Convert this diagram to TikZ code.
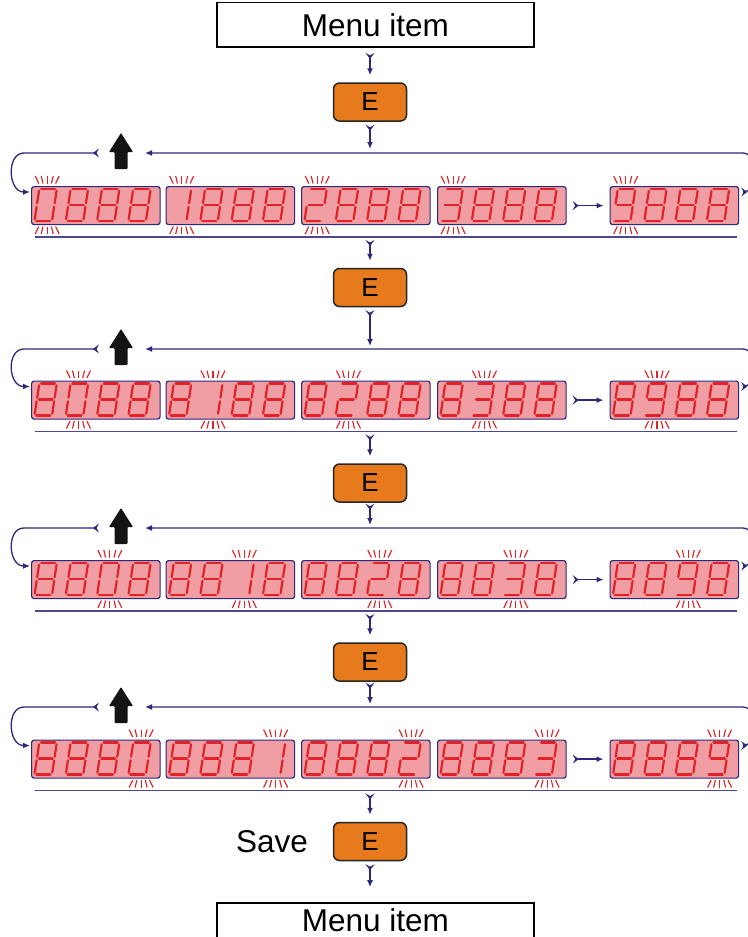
\documentclass[tikz,border=0pt]{standalone}
\usepackage{fontspec}
\setmainfont{Liberation Sans}
\usetikzlibrary{arrows.meta,calc}
\definecolor{navy}{RGB}{44,40,126}
\definecolor{dpink}{RGB}{240,158,163}
\definecolor{segred}{RGB}{225,35,40}
\definecolor{btnorange}{RGB}{231,122,29}
\tikzset{
  conn/.style={draw=navy, line width=1.3pt, {Stealth[reversed,length=6pt,width=9pt,inset=2.5pt]}-{Latex[length=7pt,width=6pt]}},
  rowline/.style={draw=navy!85, line width=1.8pt},
  dispbox/.style={draw=navy, line width=1.2pt, fill=dpink, rounded corners=2.5pt, minimum width=128.5pt, minimum height=38pt, inner sep=0pt, anchor=north west},
  segline/.style={draw=segred, line width=2.2pt, line cap=round},
  flashline/.style={draw=segred, line width=1.15pt},
  ebtn/.style={draw=black!85, line width=1.5pt, fill=btnorange, rounded corners=6pt, minimum width=73pt, minimum height=38pt, inner sep=0pt, font=\fontsize{26}{26}\selectfont},
  menubox/.style={draw=black, line width=1.8pt, fill=white, minimum width=317pt, minimum height=44.5pt, inner sep=0pt, font=\fontsize{31.5}{36}\selectfont},
  lbl/.style={inner sep=0pt, font=\fontsize{31.5}{36}\selectfont},
  bigarrow/.style={fill=black!92, rounded corners=0.8pt},
}
% seven segments, local coordinates (v upwards)
\newcommand\segA{\draw[segline] (1.8,32) -- (15.7,32);}
\newcommand\segB{\draw[segline] (17.5,30.2) -- (17.5,17.8);}
\newcommand\segC{\draw[segline] (17.5,14.2) -- (17.5,1.8);}
\newcommand\segD{\draw[segline] (1.8,0) -- (15.7,0);}
\newcommand\segE{\draw[segline] (0,1.8) -- (0,14.2);}
\newcommand\segF{\draw[segline] (0,17.8) -- (0,30.2);}
\newcommand\segG{\draw[segline] (1.8,16) -- (15.7,16);}
\newcommand\segset[1]{\foreach \sgname in {#1}{\csname seg\sgname\endcsname}}
\newcommand\digat[3]{\begin{scope}[shift={(#1,#2)},x=1pt,y=1pt,xslant=0.15]%
  \ifcase#3\relax \segset{A,B,C,D,E,F}\or \segset{B,C}\or \segset{A,B,G,E,D}\or
  \segset{A,B,G,C,D}\or \segset{F,G,B,C}\or \segset{A,F,G,C,D}\or \segset{A,F,G,E,C,D}\or
  \segset{A,B,C}\or \segset{A,B,C,D,E,F,G}\or \segset{A,B,C,D,F,G}\fi
  \end{scope}}
\newcommand\flashat[3]{\begin{scope}[shift={({#1},{#2})}]%
  \foreach \k in {-2,...,2}{%
    \draw[flashline] ({\k*4.2},-2.5) -- ({\k*6},-10);
    \draw[flashline] ({\k*4.2},#3+2.5) -- ({\k*6},#3+10);}
  \end{scope}}
\newcommand\disp[8]{%
  \node[dispbox] (#1) at (#2,#3) {};
  \digat{#2+3.5}{#3+35}{#4}
  \digat{#2+34.8}{#3+35}{#5}
  \digat{#2+66.1}{#3+35}{#6}
  \digat{#2+97.4}{#3+35}{#7}
  \flashat{#2+16.2+31.3*(#8-1)}{#3}{38}}
\newcommand\bigup[1]{\fill[bigarrow] (121,#1) -- (133,#1+19) -- (127.5,#1+19) -- (127.5,#1+36) -- (114.5,#1+36) -- (114.5,#1+19) -- (109,#1+19) -- cycle;}
% #1 row, #2 top line y, #3 display top y
\newcommand\rowloops[3]{%
  \coordinate (t#1) at (370,#2);
  \coordinate (b#1) at (370,#3+51);
  \coordinate (tip#1) at (145,#2);
  \coordinate (tail#1) at (99,#2);
  \coordinate (lc#1) at (24,#2);
  \coordinate (rc#1) at (752,#3+6);
  \draw[rowline] (35,#3+51) -- (737,#3+51);
  \draw[conn, rounded corners=9pt] ($(D#15.north east)+(2,6)$) -- (rc#1) |- (tip#1);
  \draw[conn] (tail#1) -- (lc#1) .. controls +(-18,0) and +(-22,0) .. ($(D#11.north west)+(-1,6)$);
  \draw[conn] ($(D#14.east)+(6,0)$) -- ($(D#15.west)+(-6,0)$);
  \bigup{#2-20}}
\begin{document}
\begin{tikzpicture}[x=1pt,y=-1pt]
\useasboundingbox (0,0) rectangle (747,937);
\fill[white] (0,0) rectangle (747,937);
% menu boxes and buttons
\node[menubox] (menu1) at (375.5,24.75) {Menu item};
\node[ebtn] (E1) at (370,102) {E};
\node[ebtn] (E2) at (370,287.5) {E};
\node[ebtn] (E3) at (370,483) {E};
\node[ebtn] (E4) at (370,662) {E};
\node[ebtn] (E5) at (370,841.5) {E};
\node[lbl] (save) at (272,841.5) {Save};
\node[menubox, text depth=10pt] (menu2) at (375.5,925.25) {Menu item};
% row 1
\disp{D11}{31}{186}{0}{8}{8}{8}{1}
\disp{D12}{165.5}{186}{1}{8}{8}{8}{1}
\disp{D13}{301}{186}{2}{8}{8}{8}{1}
\disp{D14}{437}{186}{3}{8}{8}{8}{1}
\disp{D15}{609.5}{186}{9}{8}{8}{8}{1}
\rowloops{1}{153}{186}
% row 2
\disp{D21}{31}{380.5}{8}{0}{8}{8}{2}
\disp{D22}{165.5}{380.5}{8}{1}{8}{8}{2}
\disp{D23}{301}{380.5}{8}{2}{8}{8}{2}
\disp{D24}{437}{380.5}{8}{3}{8}{8}{2}
\disp{D25}{609.5}{380.5}{8}{9}{8}{8}{2}
\rowloops{2}{349}{380.5}
% row 3
\disp{D31}{31}{560}{8}{8}{0}{8}{3}
\disp{D32}{165.5}{560}{8}{8}{1}{8}{3}
\disp{D33}{301}{560}{8}{8}{2}{8}{3}
\disp{D34}{437}{560}{8}{8}{3}{8}{3}
\disp{D35}{609.5}{560}{8}{8}{9}{8}{3}
\rowloops{3}{528}{560}
% row 4
\disp{D41}{31}{739.5}{8}{8}{8}{0}{4}
\disp{D42}{165.5}{739.5}{8}{8}{8}{1}{4}
\disp{D43}{301}{739.5}{8}{8}{8}{2}{4}
\disp{D44}{437}{739.5}{8}{8}{8}{3}{4}
\disp{D45}{609.5}{739.5}{8}{8}{8}{9}{4}
\rowloops{4}{707}{739.5}
% vertical flow
\draw[conn] ($(menu1.south -| E1)+(0,5)$) -- ($(E1.north)+(0,-7)$);
\draw[conn] ($(E1.south)+(0,3)$) -- ($(t1)+(0,-4)$);
\draw[conn] ($(b1)+(0,3)$) -- ($(E2.north)+(0,-7)$);
\draw[conn] ($(E2.south)+(0,3)$) -- ($(t2)+(0,-3)$);
\draw[conn] ($(b2)+(0,3)$) -- ($(E3.north)+(0,-7)$);
\draw[conn] ($(E3.south)+(0,1)$) -- ($(t3)+(0,-3)$);
\draw[conn] ($(b3)+(0,3)$) -- ($(E4.north)+(0,-7)$);
\draw[conn] ($(E4.south)+(0,1)$) -- ($(t4)+(0,-3)$);
\draw[conn] ($(b4)+(0,3)$) -- ($(E5.north)+(0,-7)$);
\draw[conn] ($(E5.south)+(0,3)$) -- ($(menu2.north -| E5)+(0,-15)$);
\end{tikzpicture}
\end{document}
